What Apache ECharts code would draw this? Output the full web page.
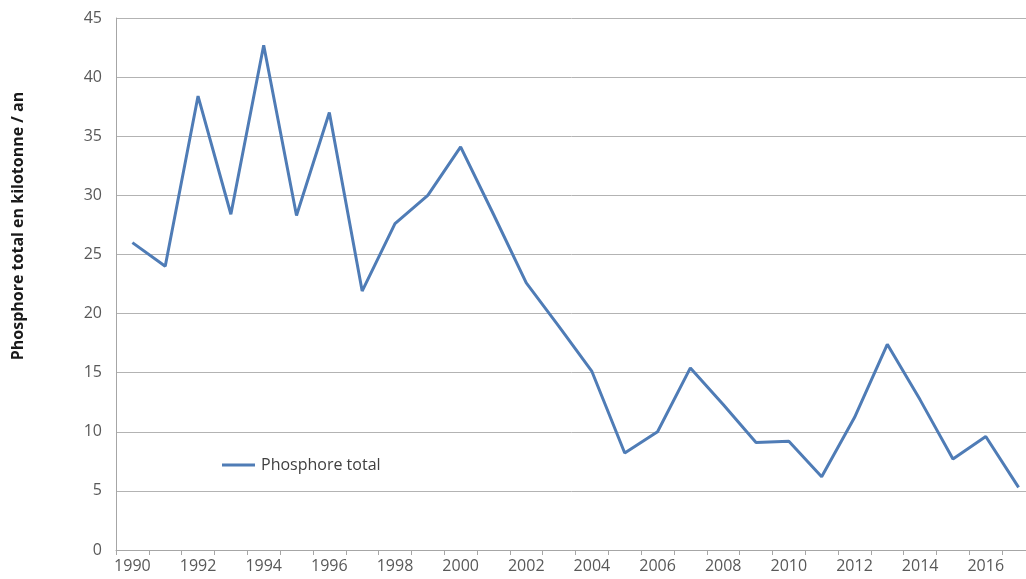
<!DOCTYPE html>
<html>
<head>
<meta charset="utf-8">
<script src="https://cdn.jsdelivr.net/npm/echarts@6/dist/echarts.min.js"></script>
<style>
  html, body { margin: 0; padding: 0; background: #ffffff; }
  #chart { width: 1026px; height: 579px; }
</style>
</head>
<body>
<div id="chart"></div>
<script>
// Annual total phosphorus load, kilotonnes per year
const years = ['1990','1991','1992','1993','1994','1995','1996','1997','1998','1999',
               '2000','2001','2002','2003','2004','2005','2006','2007','2008','2009',
               '2010','2011','2012','2013','2014','2015','2016','2017'];
const phosphoreTotal = [26.0, 24.0, 38.4, 28.4, 42.7, 28.3, 37.0, 21.9, 27.6, 30.0,
                        34.1, 28.4, 22.6, 18.9, 15.1, 8.2, 10.0, 15.4, 12.3, 9.1,
                        9.2, 6.2, 11.2, 17.4, 12.7, 7.7, 9.6, 5.3];
const seriesName = 'Phosphore total';
const yAxisTitle = 'Phosphore total en kilotonne / an';

const FONT = '"Open Sans", "Noto Sans", sans-serif';
const chart = echarts.init(document.getElementById('chart'), null, { renderer: 'canvas' });

chart.setOption({
  animation: false,
  backgroundColor: '#ffffff',
  // plot area runs a little past the right edge of the canvas
  grid: { left: 116, width: 919, top: 18, bottom: 29, containLabel: false, outerBoundsMode: 'none' },
  legend: {
    data: [seriesName],
    left: 222,
    top: 457,
    padding: 0,
    icon: 'rect',
    itemWidth: 33,
    itemHeight: 3,
    itemGap: 10,
    textStyle: { fontFamily: FONT, fontSize: 16, color: '#404040', padding: [0, 0, 0, 1] }
  },
  xAxis: {
    type: 'category',
    data: years,
    boundaryGap: true,
    axisLine: { show: true, lineStyle: { color: '#a6a6a6', width: 1 } },
    axisTick: { show: true, interval: 0, length: 5, lineStyle: { color: '#a6a6a6' } },
    axisLabel: { interval: 1, margin: 8, fontFamily: FONT, fontSize: 16, color: '#595959' },
    splitLine: { show: false }
  },
  yAxis: {
    type: 'value',
    min: 0,
    max: 45,
    interval: 5,
    name: yAxisTitle,
    nameLocation: 'middle',
    nameGap: 90,
    nameTextStyle: {
      fontFamily: FONT, fontSize: 16, fontWeight: 'bold', color: '#1a1a1a',
      padding: [0, 0, 0, 116]
    },
    axisLine: { show: true, lineStyle: { color: '#a6a6a6', width: 1 } },
    axisTick: { show: false },
    axisLabel: { margin: 14, fontFamily: FONT, fontSize: 16, color: '#595959' },
    splitLine: { show: true, lineStyle: { color: '#b3b3b3', width: 1 } }
  },
  series: [{
    name: seriesName,
    type: 'line',
    data: phosphoreTotal,
    symbol: 'none',
    lineStyle: { color: '#4f7cb6', width: 3 },
    itemStyle: { color: '#4f7cb6' }
  }]
});
</script>
</body>
</html>
